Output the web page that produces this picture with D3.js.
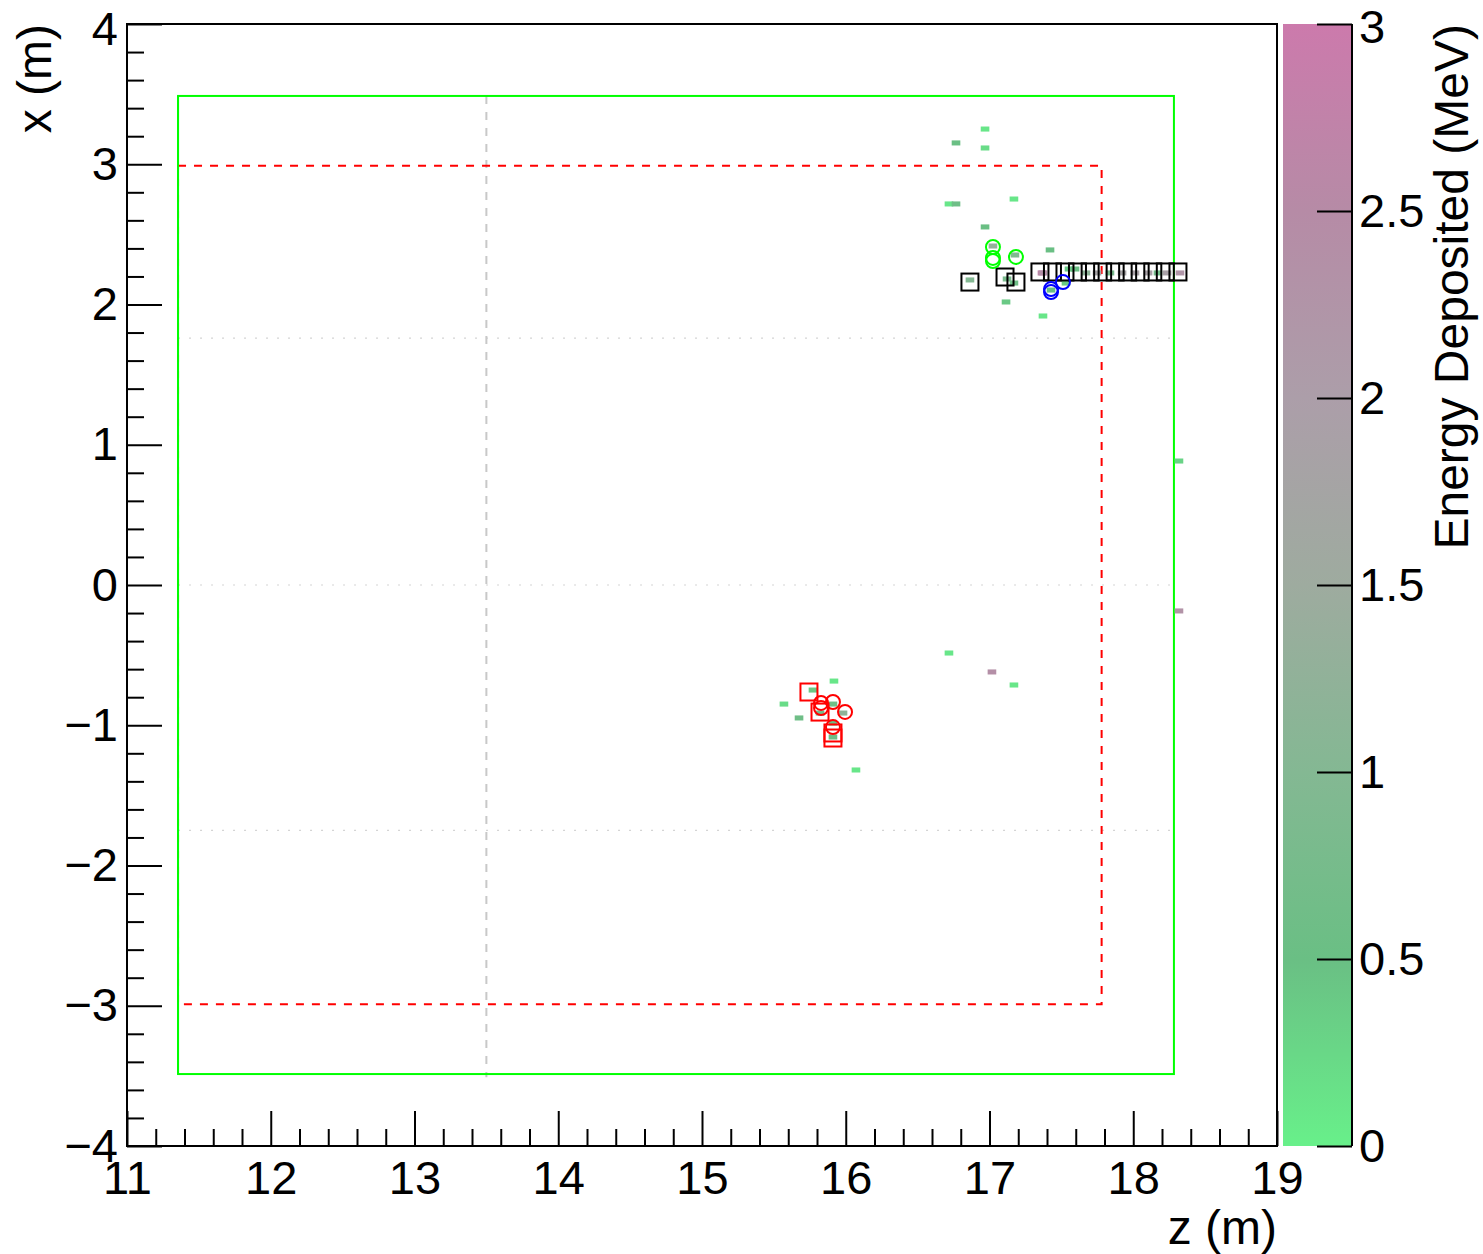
<!DOCTYPE html>
<html><head><meta charset="utf-8">
<script src="https://cdn.jsdelivr.net/npm/d3@7"></script>
<style>body{margin:0;background:#fff}svg{display:block}text{font-family:"Liberation Sans",Arial,sans-serif}</style>
</head><body><svg id="c" width="1483" height="1254"></svg>
<script>
// ---- data ----
const zTicks = [11,12,13,14,15,16,17,18,19];
const xTicks = [-4,-3,-2,-1,0,1,2,3,4];
const eTicks = [0,0.5,1,1.5,2,2.5,3];
// energy hits: z (m), x (m), energy (MeV)
const hitZ = [16.969,16.767,16.969,16.718,16.767,17.170,16.969,17.024,17.177,17.421,16.864,17.122,17.170,17.115,17.372,17.365,17.428,
  17.372,17.553,17.595,17.532,17.671,17.748,17.838,17.922,18.012,18.103,18.172,18.235,18.325,
  15.918,15.772,15.570,15.675,15.911,15.821,15.981,15.911,15.911,16.071,16.718,17.017,17.170,18.318,18.318];
const hitX = [3.251,3.152,3.116,2.717,2.717,2.752,2.553,2.417,2.353,2.389,2.175,2.182,2.153,2.018,1.918,2.225,2.103,
  2.225,2.253,2.253,2.153,2.225,2.225,2.225,2.225,2.225,2.225,2.225,2.225,2.225,
  -0.685,-0.749,-0.849,-0.948,-0.849,-0.913,-0.913,-0.984,-1.084,-1.319,-0.485,-0.620,-0.713,0.884,-0.185];
const hitE = [0.1,0.5,0.2,0.1,0.6,0.1,0.5,1.3,0.9,0.5,1.0,0.8,0.6,0.4,0.1,2.7,0.5,
  2.4,0.4,0.5,0.4,1.2,1.8,0.8,1.8,1.9,1.9,0.7,1.9,2.2,
  0.1,0.4,0.2,0.6,0.6,0.7,1.2,0.5,0.6,0.1,0.1,2.4,0.1,0.3,2.3];
// reconstructed objects
const redCircZ = [15.828,15.828,15.911,15.995,15.911];
const redCircX = [-0.841,-0.877,-0.834,-0.905,-1.013];
const redSqZ = [15.744,15.821,15.911,15.911];
const redSqX = [-0.763,-0.906,-1.055,-1.091];
const greenCircZ = [17.024,17.024,17.024,17.184];
const greenCircX = [2.410,2.332,2.310,2.339];
const blueCircZ = [17.428,17.428,17.511];
const blueCircX = [2.110,2.089,2.160];
const blackSqZ = [16.864,17.108,17.184,17.351,17.438,17.525,17.612,17.700,17.787,17.874,17.961,18.048,18.136,18.223,18.311];
const blackSqX = [2.160,2.196,2.160,2.232,2.232,2.232,2.232,2.232,2.232,2.232,2.232,2.232,2.232,2.232,2.232];
// detector outlines
const outerZ = [11.355,18.283], outerX = [-3.487,3.487];
const innerZ = [11.355,17.78], innerX = [-2.99,2.99];
const dashZ = [13.5], dashX = [-3.51,3.487];
const dotX = [1.76,0,-1.75];
const eStops = [0,0.5,1,1.5,2,2.5,3];
const eColors = ["#68f08a","#6abf84","#84b893","#9eab9f","#ac9ea9","#b68ba6","#cc7aac"];

// ---- drawing ----
const svg = d3.select("#c");
const L=127,R=1277,T=24,B=1146;
const z = d3.scaleLinear().domain([11,19]).range([L,R]);
const x = d3.scaleLinear().domain([-4,4]).range([B,T]);
const col = d3.scaleLinear().domain(eStops).range(eColors);
const HIT_W = 0.06, HIT_H = 0.036;
const FS = 47, TFS = 48;

const g = svg.append("g");
g.selectAll(".dot").data(dotX).join("line")
  .attr("x1",z(outerZ[0])).attr("x2",z(outerZ[1])).attr("y1",d=>x(d)).attr("y2",d=>x(d))
  .attr("stroke","#d4d4d4").attr("stroke-width",1.2).attr("stroke-dasharray","2,9");
g.selectAll(".vd").data(dashZ).join("line")
  .attr("x1",d=>z(d)).attr("x2",d=>z(d)).attr("y1",x(dashX[1])).attr("y2",x(dashX[0]))
  .attr("stroke","#c8c8c8").attr("stroke-width",2).attr("stroke-dasharray","8,8");
g.append("rect").attr("x",z(outerZ[0])).attr("y",x(outerX[1]))
  .attr("width",z(outerZ[1])-z(outerZ[0])).attr("height",x(outerX[0])-x(outerX[1]))
  .attr("fill","none").attr("stroke","#00ff00").attr("stroke-width",2);
g.append("rect").attr("x",z(innerZ[0])).attr("y",x(innerX[1]))
  .attr("width",z(innerZ[1])-z(innerZ[0])).attr("height",x(innerX[0])-x(innerX[1]))
  .attr("fill","none").attr("stroke","#ff0000").attr("stroke-width",2).attr("stroke-dasharray","8,8");
g.append("line").attr("x1",z(outerZ[0])).attr("x2",z(outerZ[0])).attr("y1",x(outerX[1])).attr("y2",x(outerX[0]))
  .attr("stroke","#00ff00").attr("stroke-width",2);

const hits = hitZ.map((d,i)=>({z:d,x:hitX[i],e:hitE[i]}));
g.selectAll(".hit").data(hits).join("rect")
  .attr("x",d=>z(d.z-HIT_W/2)).attr("y",d=>x(d.x+HIT_H/2))
  .attr("width",z(11+HIT_W)-z(11)).attr("height",x(-HIT_H)-x(0))
  .attr("fill",d=>col(d.e));

function circles(zs,xs,c){
  g.selectAll(null).data(zs.map((d,i)=>[d,xs[i]])).join("circle")
    .attr("cx",d=>z(d[0])).attr("cy",d=>x(d[1])).attr("r",7)
    .attr("fill","none").attr("stroke",c).attr("stroke-width",2);
}
function squares(zs,xs,c){
  const s=17;
  g.selectAll(null).data(zs.map((d,i)=>[d,xs[i]])).join("rect")
    .attr("x",d=>z(d[0])-s/2).attr("y",d=>x(d[1])-s/2).attr("width",s).attr("height",s)
    .attr("fill","none").attr("stroke",c).attr("stroke-width",2);
}
squares(blackSqZ,blackSqX,"#000");
circles(greenCircZ,greenCircX,"#00ff00");
circles(blueCircZ,blueCircX,"#0000ff");
squares(redSqZ,redSqX,"#ff0000");
circles(redCircZ,redCircX,"#ff0000");

svg.append("rect").attr("x",L).attr("y",T).attr("width",R-L).attr("height",B-T)
  .attr("fill","none").attr("stroke","#000").attr("stroke-width",2);

function styleAxis(sel){
  sel.select(".domain").remove();
  sel.selectAll("line").attr("stroke","#000").attr("stroke-width",2);
  sel.selectAll("text").attr("font-size",FS).attr("fill","#000").attr("font-family","Liberation Sans, Arial, sans-serif");
}
const minorZ = d3.range(0,41).map(i=>11+i*0.2).filter(v=>Math.abs(v-Math.round(v))>1e-6);
const minorX = d3.range(0,41).map(i=>-4+i*0.2).filter(v=>Math.abs(v-Math.round(v))>1e-6);
svg.append("g").attr("transform",`translate(0,${B})`)
  .call(d3.axisBottom(z).tickValues(minorZ).tickSize(-17).tickFormat(""))
  .call(styleAxis);
svg.append("g").attr("transform",`translate(0,${B})`)
  .call(d3.axisBottom(z).tickValues(zTicks).tickSize(-35).tickPadding(15).tickFormat(d3.format("d")))
  .call(styleAxis);
svg.append("g").attr("transform",`translate(${L},0)`)
  .call(d3.axisLeft(x).tickValues(minorX).tickSize(-17).tickFormat(""))
  .call(styleAxis);
const yAx = svg.append("g").attr("transform",`translate(${L},0)`)
  .call(d3.axisLeft(x).tickValues(xTicks).tickSize(-35).tickPadding(9).tickFormat(d3.format("d")))
  .call(styleAxis);
// top label nudged down inside the page, as in the reference
yAx.selectAll(".tick").filter(d=>d===4).select("text").attr("y",5);

svg.append("text").attr("x",R).attr("y",1244).attr("text-anchor","end").attr("font-size",TFS).text("z (m)");
svg.append("text").attr("transform",`translate(51,${T}) rotate(-90)`).attr("text-anchor","end").attr("font-size",TFS).text("x (m)");

const CB0=1283, CB1=1352;
const ce = d3.scaleLinear().domain([0,3]).range([B,T]);
const defs = svg.append("defs");
const grad = defs.append("linearGradient").attr("id","cg").attr("x1",0).attr("y1",1).attr("x2",0).attr("y2",0);
grad.selectAll("stop").data(eStops).join("stop")
  .attr("offset",d=>d/3).attr("stop-color",d=>col(d));
svg.append("rect").attr("x",CB0).attr("y",T).attr("width",CB1-CB0).attr("height",B-T).attr("fill","url(#cg)");
svg.append("line").attr("x1",CB1).attr("x2",CB1).attr("y1",T).attr("y2",B).attr("stroke","#000").attr("stroke-width",2);
const cAx = svg.append("g").attr("transform",`translate(${CB1},0)`)
  .call(d3.axisRight(ce).tickValues(eTicks).tickSize(-35).tickPadding(7).tickFormat(d=>String(d)))
  .call(styleAxis);
cAx.selectAll(".tick").filter(d=>d===3).select("text").attr("y",3);
svg.append("text").attr("transform",`translate(1468,${T}) rotate(-90)`).attr("text-anchor","end").attr("font-size",TFS).text("Energy Deposited (MeV)");
</script></body></html>
